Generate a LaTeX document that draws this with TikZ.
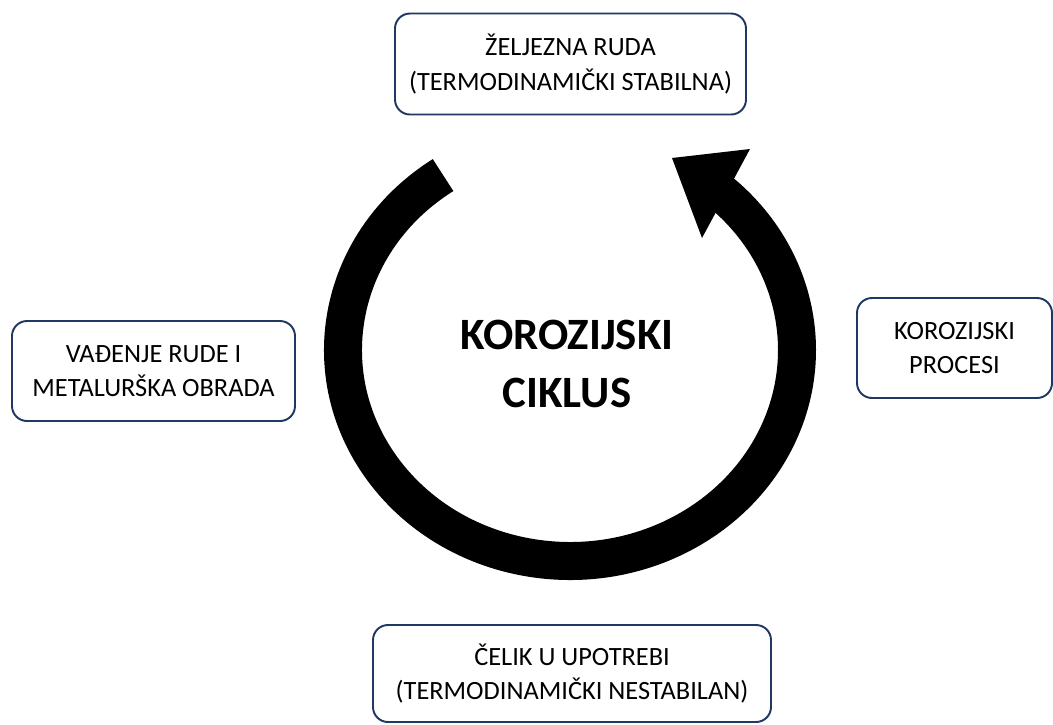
\documentclass[tikz,border=0pt]{standalone}
\usepackage{fontspec}
\setmainfont{Carlito}
\definecolor{stageblue}{RGB}{31,56,100}

\begin{document}
\begin{tikzpicture}

%
% Styles
%
\tikzstyle{stage} = [draw=stageblue,line width=1.1pt,rounded corners=0.3cm,fill=white,align=center,inner sep=0pt,font=\fontsize{15}{19.5}\selectfont]
\tikzstyle{title} = [align=center,font=\bfseries\fontsize{25.5}{33}\selectfont]
\tikzstyle{ring}  = [line width=0.76cm,black]
\tikzstyle{head}  = [fill=black]

\useasboundingbox (0,0) rectangle (21.06,-14.48);

% cycle arrow
\coordinate (c) at (11.4,-7.0);
\draw[ring] ([shift={(124:4.54 and 4.22)}]c) arc[start angle=124,end angle=409,x radius=4.54,y radius=4.22];
\fill[head] (13.44,-3.16) -- (15.0,-2.98) -- (14.04,-4.76) -- cycle;

\node[title]  (cycle) at (11.34,-7.28) {KOROZIJSKI\\CIKLUS};

% stages
\node[stage,minimum width=7.02cm,minimum height=2.02cm] (ore)   at (11.41,-1.28) {ŽELJEZNA RUDA\\(TERMODINAMIČKI STABILNA)};
\node[stage,minimum width=3.90cm,minimum height=2.00cm] (corr)  at (19.09,-6.96) {KOROZIJSKI\\PROCESI};
\node[stage,minimum width=7.96cm,minimum height=1.94cm] (steel) at (11.44,-13.47) {ČELIK U UPOTREBI\\(TERMODINAMIČKI NESTABILAN)};
\node[stage,minimum width=5.66cm,minimum height=2.00cm] (mine)  at (3.07,-7.42) {VAĐENJE RUDE I\\METALURŠKA OBRADA};

\end{tikzpicture}
\end{document}
